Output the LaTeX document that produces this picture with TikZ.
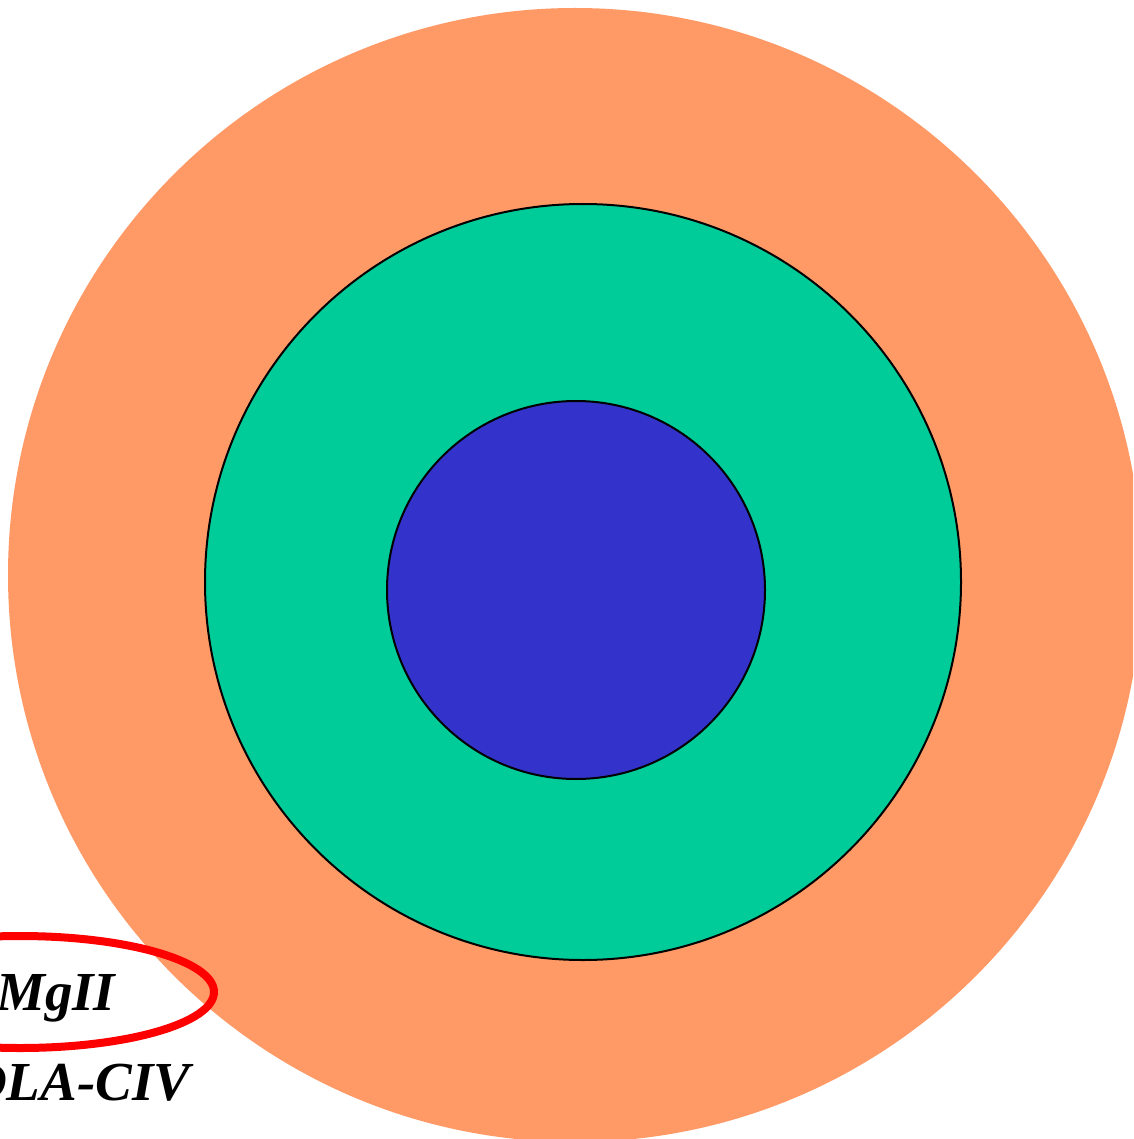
\documentclass[tikz,border=0pt]{standalone}
\usepackage{fontspec}
\setmainfont{Liberation Serif}
\definecolor{ringorange}{RGB}{255,153,102}
\definecolor{ringgreen}{RGB}{0,204,153}
\definecolor{ringblue}{RGB}{51,51,204}
\tikzset{
  disc/.style={draw=black, line width=2pt},
  lbl/.style={font=\fontsize{55}{60}\selectfont\bfseries\itshape, inner sep=0pt, anchor=base west},
}
\begin{document}
\begin{tikzpicture}[x=1pt,y=-1pt]
\useasboundingbox (0,0) rectangle (1133,1139);
\clip (0,0) rectangle (1133,1139);
\fill[ringorange] (575,575) circle (567);
\draw[disc, fill=ringgreen] (583,582) circle (378);
\draw[disc, fill=ringblue] (576,590) circle (189);
\draw[red, line width=8pt] (20,992) ellipse (194 and 56);
\node[lbl] (mg) at (-4,1010) {MgII};
\node[lbl] (dla) at (-33,1100) {DLA-CIV};
\end{tikzpicture}
\end{document}
